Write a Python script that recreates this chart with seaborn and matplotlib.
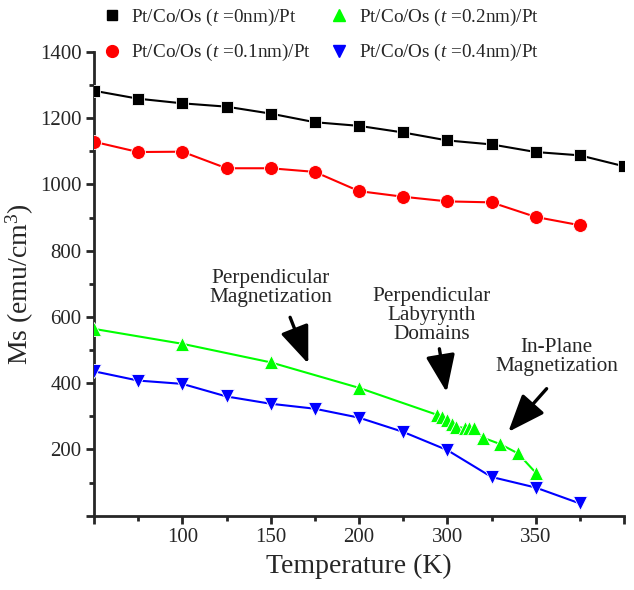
import numpy as np
import pandas as pd
import seaborn as sns
import matplotlib
matplotlib.use("Agg")
import matplotlib.pyplot as plt
from matplotlib.lines import Line2D
from matplotlib.ticker import MultipleLocator

# ---------------- data ----------------
t0_x = [50, 75, 100, 125, 150, 175, 200, 225, 250, 275, 300, 325, 350]
t0_y = [1283, 1259, 1245, 1235, 1214, 1188, 1177, 1157, 1133, 1121, 1098, 1088, 1055]

t1_x = [50, 75, 100, 125, 150, 175, 200, 225, 250, 275, 300, 325]
t1_y = [1129, 1098, 1099, 1049, 1049, 1038, 980, 963, 949, 946, 902, 877]

t2_x = [50, 100, 150, 200, 244, 247, 250, 252.5, 255, 260, 262.5, 265, 270, 280, 290, 300]
t2_y = [564, 519, 463, 386, 305, 298, 290, 278, 268, 265, 265, 265, 236, 216, 188, 130]

t4_x = [50, 75, 100, 125, 150, 175, 200, 225, 250, 275, 300, 325]
t4_y = [436, 408, 398, 360, 338, 323, 296, 253, 198, 117, 85, 37]

series_labels = ["Pt/Co/Os ($\\mathit{t}$ =0nm)/Pt",
                 "Pt/Co/Os ($\\mathit{t}$ =0.1nm)/Pt",
                 "Pt/Co/Os ($\\mathit{t}$ =0.2nm)/Pt",
                 "Pt/Co/Os ($\\mathit{t}$ =0.4nm)/Pt"]
series_colors = ["#000000", "#ff0000", "#00ff00", "#0000ff"]
series_markers = ["s", "o", "^", "v"]

xtick_pos = [50, 100, 150, 200, 250, 300, 350]
xtick_labels = ["", "100", "150", "200", "300", "350", ""]
ytick_pos = [0, 200, 400, 600, 800, 1000, 1200, 1400]
ytick_labels = ["", "200", "400", "600", "800", "1000", "1200", "1400"]

# ---------------- style ----------------
sns.set_style("ticks")
plt.rcParams["font.family"] = ["Liberation Serif", "DejaVu Serif"]
plt.rcParams["mathtext.fontset"] = "custom"
plt.rcParams["mathtext.rm"] = "Liberation Serif"
plt.rcParams["mathtext.it"] = "Liberation Serif:italic"

fig = plt.figure(figsize=(6.34, 5.90), dpi=100)
ax = fig.add_axes([94 / 634, 1 - 515.7 / 590, 530 / 634, (515.7 - 52) / 590])

xs = [t0_x, t1_x, t2_x, t4_x]
ys = [t0_y, t1_y, t2_y, t4_y]
msizes = [8.5, 10, 10.5, 10.5]
for x, y, c, m, lab, ms in zip(xs, ys, series_colors, series_markers, series_labels, msizes):
    df = pd.DataFrame({"T": x, "Ms": y})
    sns.lineplot(data=df, x="T", y="Ms", ax=ax, color=c, marker=m, markersize=ms,
                 markeredgecolor="white", markeredgewidth=0.6, linewidth=1.5,
                 legend=False, zorder=3)

ax.set_xlim(50, 350)
ax.set_ylim(0, 1400)
ax.set_xticks(xtick_pos)
ax.set_xticklabels(xtick_labels)
ax.set_yticks(ytick_pos)
ax.set_yticklabels(ytick_labels)
ax.xaxis.set_minor_locator(MultipleLocator(25))
ax.yaxis.set_minor_locator(MultipleLocator(100))
ax.tick_params(axis="both", which="major", length=6, width=2, direction="out",
               labelsize=15, pad=3)
ax.tick_params(axis="both", which="minor", length=3.5, width=2, direction="out")
for s in ["top", "right"]:
    ax.spines[s].set_visible(False)
for s in ["left", "bottom"]:
    ax.spines[s].set_linewidth(2)

ax.set_xlabel("Temperature (K)", fontsize=20, labelpad=5)
ax.set_ylabel("Ms (emu/cm$^3$)", fontsize=20, labelpad=3)

# annotations
arrow = dict(arrowstyle="-|>,head_length=1.15,head_width=0.45", mutation_scale=20,
             lw=2.4, color="black", shrinkA=0, shrinkB=0)
afs = 15.3
ax.text(150, 686, "Perpendicular\nMagnetization", ha="center", va="center",
        fontsize=afs, linespacing=1.0)
ax.annotate("", xy=(171.3, 459), xytext=(161, 599), arrowprops=arrow)

ax.text(241.3, 603, "Perpendicular\nLabyrynth\nDomains", ha="center", va="center",
        fontsize=afs, linespacing=1.0)
ax.annotate("", xy=(249.6, 373), xytext=(245.5, 504), arrowprops=arrow)

ax.text(311.9, 479, "In-Plane\nMagnetization", ha="center", va="center",
        fontsize=afs, linespacing=1.0)
ax.annotate("", xy=(284.5, 253), xytext=(306.2, 383.5), arrowprops=arrow)

# legend
handles = [Line2D([], [], linestyle="none", marker=m, color=c, markersize=ms * 0.85,
                  markeredgecolor=c)
           for m, c, ms in zip(series_markers, series_colors, msizes)]
fig.legend(handles, series_labels, ncol=2, loc="upper left",
           bbox_to_anchor=(100 / 634, 1 - 3 / 590), frameon=False, fontsize=13.8,
           handlelength=0.8, handletextpad=0.6, columnspacing=1.1,
           labelspacing=0.75, borderaxespad=0.0, borderpad=0.2)

fig.savefig("out.png", dpi=100)
